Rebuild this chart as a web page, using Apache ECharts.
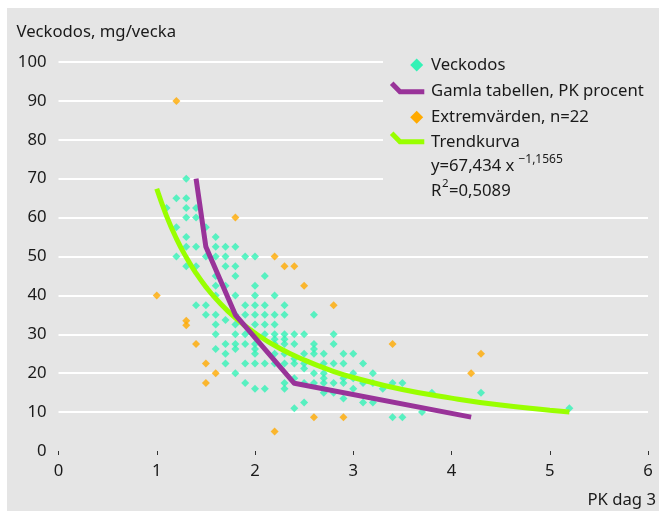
<!DOCTYPE html>
<html>
<head>
<meta charset="utf-8">
<script src="https://cdn.jsdelivr.net/npm/echarts@6/dist/echarts.min.js"></script>
<style>
  html, body { margin: 0; padding: 0; background: #fff; }
  #chart { position: absolute; left: 7px; top: 8px; width: 652px; height: 503px; }
</style>
</head>
<body>
<div id="chart"></div>
<script>
// Veckodos: rader med [y, x-värden]
var doseRows = [
  [70, [1.3]],
  [65, [1.2, 1.3]],
  [62.5, [1.1, 1.3, 1.4]],
  [60, [1.3, 1.4]],
  [57.5, [1.2, 1.5]],
  [55, [1.3, 1.6]],
  [52.5, [1.3, 1.4, 1.6, 1.7, 1.8]],
  [50, [1.2, 1.5, 1.6, 1.7, 1.9, 2.0]],
  [47.5, [1.3, 1.4, 1.7, 1.8]],
  [45, [1.6, 1.8, 2.1]],
  [42.5, [1.6, 1.7, 2.0]],
  [40, [1.6, 1.8, 2.0, 2.2]],
  [37.5, [1.4, 1.5, 1.9, 2.0, 2.1, 2.3]],
  [35, [1.5, 1.6, 1.8, 1.9, 2.0, 2.1, 2.2, 2.3, 2.6]],
  [33.7, [1.7]],
  [32.5, [1.6, 1.8, 2.0, 2.1, 2.2]],
  [30, [1.6, 1.8, 1.9, 2.1, 2.2, 2.3, 2.4, 2.5, 2.8]],
  [28.7, [2.2, 2.3]],
  [27.5, [1.7, 1.8, 1.9, 2.0, 2.2, 2.3, 2.4, 2.6, 2.8]],
  [26.2, [1.6, 1.8, 2.0, 2.6]],
  [25, [1.7, 2.0, 2.2, 2.3, 2.5, 2.6, 2.7, 2.9, 3.0]],
  [23.7, [2.4]],
  [22.5, [1.7, 1.9, 2.0, 2.1, 2.2, 2.3, 2.4, 2.5, 2.7, 2.8, 2.9, 3.1]],
  [21.2, [2.5]],
  [20, [1.8, 2.6, 2.7, 3.0, 3.2]],
  [18.7, [2.4, 2.7, 2.9, 3.0]],
  [17.5, [1.9, 2.3, 2.5, 2.6, 2.7, 2.8, 2.9, 3.1, 3.2, 3.4, 3.5]],
  [16, [2.0, 2.1, 2.3, 3.0, 3.3]],
  [15, [2.7, 2.8, 3.8, 4.3]],
  [13.5, [2.9]],
  [12.5, [2.5, 3.1, 3.2]],
  [11, [2.4, 5.2]],
  [10, [3.7]],
  [8.7, [3.4, 3.5]]
];

// Extremvärden
var extremeX = [1.2, 1.8, 2.2, 2.3, 2.4, 2.5, 1.0, 2.8, 1.3, 1.3, 1.4, 3.4, 4.3, 1.5, 1.6, 4.2, 1.5, 2.6, 2.9, 2.2];
var extremeY = [90, 60, 50, 47.5, 47.5, 42.5, 40, 37.5, 33.5, 32.3, 27.5, 27.5, 25, 22.5, 20, 20, 17.5, 8.7, 8.7, 5];

// Gamla tabellen, PK procent
var oldX = [1.4, 1.5, 1.8, 2.4, 4.2];
var oldY = [70, 52.5, 35, 17.4, 8.7];

// Trendkurva (avläst)
var trendX = [1.0, 1.1, 1.2, 1.3, 1.4, 1.5, 1.6, 1.8, 2.0, 2.25, 2.5, 2.75, 3.0, 3.5, 4.0, 4.5, 5.0, 5.2];
var trendY = [67.4, 60.4, 54.6, 49.8, 45.7, 42.2, 39.2, 34.2, 30.3, 26.4, 23.4, 20.9, 18.9, 15.8, 13.6, 11.8, 10.5, 10.0];

var yTicks = [0, 10, 20, 30, 40, 50, 60, 70, 80, 90, 100];

var FONT = '"Noto Sans"';
var FS = 16.7;
var TXT = '#1a1a1a';
var BG = '#e5e5e5';
var cTeal = '#33f2b6';
var cOrange = '#ffaa00';
var cPurple = '#993399';
var cGreen = '#99ff00';

function pairs(xs, ys) {
  var out = [];
  for (var i = 0; i < xs.length; i++) {
    out.push([xs[i], ys[i]]);
  }
  return out;
}

function diamond(cx, cy, r) {
  return [[cx, cy - r], [cx + r, cy], [cx, cy + r], [cx - r, cy]];
}

//textbredd för upphöjd text
var ctx = document.createElement('canvas').getContext('2d');
function textW(s, size) {
  ctx.font = size + 'px ' + FONT;
  return ctx.measureText(s).width;
}

function txt(x, y, s, size, align) {
  return {
    type: 'text', x: x, y: y, z: 5,
    style: { text: s, font: size + 'px ' + FONT, fill: TXT, verticalAlign: 'middle', align: align || 'left' }
  };
}

var doseData = [];
for (var r = 0; r < doseRows.length; r++) {
  var xs = doseRows[r][1];
  for (var k = 0; k < xs.length; k++) {
    doseData.push([xs[k], doseRows[r][0]]);
  }
}

// första linjen (0) ska inte synas
var splitColors = yTicks.map(function (v) { return v === 0 ? 'rgba(0,0,0,0)' : '#ffffff'; });

var formula = 'y=67,434 x';
var fw = textW(formula, FS);
var rw = textW('R', FS);
var sw = textW('2', 11.5);

var myChart = echarts.init(document.getElementById('chart'));
var option = {
  backgroundColor: BG,
  animation: false,
  textStyle: { fontFamily: FONT },
  grid: { left: 51.5, top: 54, width: 589.5, height: 389 },
  xAxis: {
    type: 'value', min: 0, max: 6, interval: 1,
    offset: 7,
    axisLine: { show: false },
    axisTick: { show: true, length: 4, lineStyle: { color: '#333', width: 1 } },
    splitLine: { show: false },
    axisLabel: { margin: 5, fontSize: FS, color: TXT, fontFamily: FONT }
  },
  yAxis: {
    type: 'value', min: 0, max: 100, interval: 10,
    axisLine: { show: false },
    axisTick: { show: false },
    splitLine: { show: true, lineStyle: { color: splitColors, width: 2 } },
    axisLabel: { margin: 12, fontSize: FS, color: TXT, fontFamily: FONT }
  },
  series: [
    {
      name: 'Veckodos', type: 'scatter', symbol: 'diamond', symbolSize: 8,
      itemStyle: { color: cTeal }, data: doseData
    },
    {
      name: 'Extremvärden, n=22', type: 'scatter', symbol: 'diamond', symbolSize: 8,
      itemStyle: { color: cOrange }, data: pairs(extremeX, extremeY)
    },
    {
      name: 'Trendkurva', type: 'line', smooth: true, showSymbol: false,
      lineStyle: { color: cGreen, width: 5, cap: 'butt' }, data: pairs(trendX, trendY)
    },
    {
      name: 'Gamla tabellen, PK procent', type: 'line', showSymbol: false,
      lineStyle: { color: cPurple, width: 5, cap: 'butt', join: 'round' }, data: pairs(oldX, oldY)
    }
  ],
  graphic: [
    txt(9.5, 24, 'Veckodos, mg/vecka', FS),
    txt(649, 492, 'PK dag 3', FS, 'right'),
    // förklaring, täcker rutnätet
    { type: 'rect', z: 1, shape: { x: 376, y: 44, width: 268, height: 152 }, style: { fill: BG } },
    { type: 'polygon', z: 5, shape: { points: diamond(409.7, 57, 6.5) }, style: { fill: cTeal } },
    { type: 'polyline', z: 5, shape: { points: [[384.7, 75.2], [393, 83.7], [417.3, 83.7]] }, style: { stroke: cPurple, lineWidth: 5, fill: null } },
    { type: 'polygon', z: 5, shape: { points: diamond(409.7, 109.3, 6.5) }, style: { fill: cOrange } },
    { type: 'polyline', z: 5, shape: { points: [[384.7, 125.3], [393, 133.7], [417.3, 133.7]] }, style: { stroke: cGreen, lineWidth: 5, fill: null } },
    txt(424, 57, 'Veckodos', FS),
    txt(424, 83, 'Gamla tabellen, PK procent', FS),
    txt(424, 109, 'Extremvärden, n=22', FS),
    txt(424, 134, 'Trendkurva', FS),
    txt(424, 158.7, formula, FS),
    txt(424 + fw + 4, 152, '\u22121,1565', 12),
    txt(424, 183.7, 'R', FS),
    txt(424 + rw + 0.5, 176, '2', 11.5),
    txt(424 + rw + 0.5 + sw + 0.5, 183.7, '=0,5089', FS)
  ]
};
myChart.setOption(option);
</script>
</body>
</html>
